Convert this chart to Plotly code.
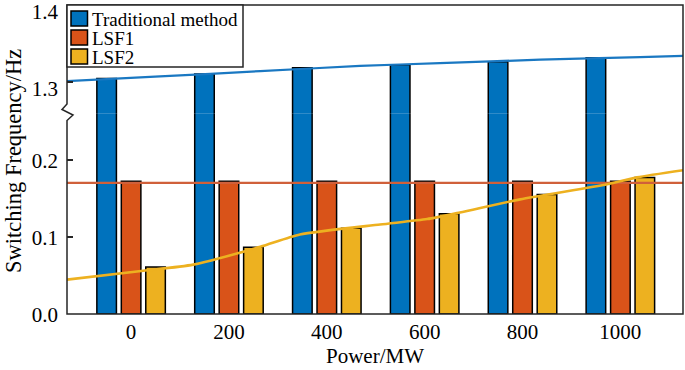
import plotly.graph_objects as go

# ---------------- data ----------------
power = [0, 200, 400, 600, 800, 1000]
tick_labels = ["0", "200", "400", "600", "800", "1000"]
traditional = [1.305, 1.311, 1.319, 1.323, 1.327, 1.332]
lsf1 = [0.172, 0.172, 0.172, 0.172, 0.172, 0.172]
lsf2 = [0.061, 0.0865, 0.111, 0.130, 0.155, 0.177]

trad_line_x = [-131, 59, 264, 468, 631, 836, 1040, 1130]
trad_line_y = [1.3017, 1.3078, 1.3147, 1.3214, 1.3251, 1.3295, 1.3329, 1.3344]
lsf1_line_x = [-131, 1130]
lsf1_line_y = [0.170, 0.170]
lsf2_line_x = [-131, 25, 127, 264, 345, 509, 605, 672, 795, 973, 1034, 1130]
lsf2_line_y = [0.0445, 0.056, 0.064, 0.087, 0.103, 0.116, 0.123, 0.1315, 0.1485, 0.168, 0.177, 0.1865]

series_names = ["Traditional method", "LSF1", "LSF2"]
colors = ["#0072BD", "#D95319", "#EDB120"]

# ---------------- layout geometry ----------------
W, H = 685, 370
ML, MR, MT, MB = 67, 2, 5, 56
PW, PH = W - ML - MR, H - MT - MB
LOW_RANGE = [0, 0.26]
UP_RANGE = [1.26, 1.4004]
split = (LOW_RANGE[1] - LOW_RANGE[0]) / ((LOW_RANGE[1] - LOW_RANGE[0]) + (UP_RANGE[1] - UP_RANGE[0]))

FONT = "Liberation Serif"
FRAME = "#262626"


def px(x):
    return (x - ML) / PW


def py(y):
    return (H - MB - y) / PH


bar_w = 40
offsets = [-70, -20, 30]
edge = dict(color="black", width=1.5)

fig = go.Figure()
# lower panel bars
for i, (name, vals) in enumerate(zip(series_names, [traditional, lsf1, lsf2])):
    fig.add_trace(go.Bar(x=power, y=vals, name=name, width=bar_w, offset=offsets[i],
                         marker=dict(color=colors[i], line=edge),
                         xaxis="x", yaxis="y", showlegend=False))
# upper panel (traditional bars continue above the break)
fig.add_trace(go.Bar(x=power, y=traditional, name=series_names[0], width=bar_w, offset=offsets[0],
                     marker=dict(color=colors[0], line=edge),
                     xaxis="x", yaxis="y2", showlegend=False))

# trend lines
fig.add_trace(go.Scatter(x=lsf1_line_x, y=lsf1_line_y, mode="lines",
                         line=dict(color="#D0603A", width=2.2), xaxis="x", yaxis="y", showlegend=False))
fig.add_trace(go.Scatter(x=lsf2_line_x, y=lsf2_line_y, mode="lines",
                         line=dict(color="#EDB120", width=2.6, shape="spline", smoothing=0.6),
                         xaxis="x", yaxis="y", showlegend=False))
fig.add_trace(go.Scatter(x=trad_line_x, y=trad_line_y, mode="lines",
                         line=dict(color="#1A78C2", width=2.2, shape="spline", smoothing=0.6),
                         xaxis="x", yaxis="y2", showlegend=False))

# frame with axis-break zigzag on the left
zig = [(ML, 104), (ML - 5, 109.5), (ML + 6, 115), (ML, 120.5)]
path = f"M {px(ML)},{py(H-MB)} L {px(zig[-1][0])},{py(zig[-1][1])} "
for (zx, zy) in reversed(zig[:-1]):
    path += f"L {px(zx)},{py(zy)} "
path += f"L {px(ML)},{py(MT)} L {px(W-MR)},{py(MT)} L {px(W-MR)},{py(H-MB)} Z"

shapes = [dict(type="path", path=path, xref="paper", yref="paper",
               line=dict(color=FRAME, width=1.5), fillcolor="rgba(0,0,0,0)", layer="above")]

# legend box (drawn manually to match the compact layout)
leg_l, leg_t, leg_r, leg_b = ML, MT, 243, 67
shapes.append(dict(type="rect", xref="paper", yref="paper",
                   x0=px(leg_l), x1=px(leg_r), y0=py(leg_b), y1=py(leg_t),
                   fillcolor="white", line=dict(color=FRAME, width=1.5), layer="above"))
annotations = []
row_y = [18.5, 37.5, 56.5]
for i, name in enumerate(series_names):
    shapes.append(dict(type="rect", xref="paper", yref="paper",
                       x0=px(71), x1=px(87.5), y0=py(row_y[i] + 7.5), y1=py(row_y[i] - 7.5),
                       fillcolor=colors[i], line=dict(color="black", width=1.5), layer="above"))
    annotations.append(dict(text=name, xref="paper", yref="paper", x=px(91), y=py(row_y[i] + 1),
                            xanchor="left", yanchor="middle", showarrow=False, borderpad=0,
                            font=dict(family=FONT, size=19, color="black")))

annotations.append(dict(text="Switching Frequency/Hz", xref="paper", yref="paper",
                        x=px(13), y=py(161), xanchor="center", yanchor="middle", textangle=-90,
                        showarrow=False, font=dict(family=FONT, size=22.5, color="black")))

tickfont = dict(family=FONT, size=21, color="black")
fig.update_layout(
    width=W, height=H,
    margin=dict(l=ML, r=MR, t=MT, b=MB, pad=0, autoexpand=False),
    paper_bgcolor="white", plot_bgcolor="white",
    showlegend=False,
    xaxis=dict(domain=[0, 1], range=[-131, 1128], tickvals=power, ticktext=tick_labels,
               showgrid=False, zeroline=False, showline=False, ticks="",
               tickfont=tickfont, anchor="y", ticklabelstandoff=3, automargin=False,
               title=dict(text="Power/MW", font=dict(family=FONT, size=21, color="black"), standoff=3)),
    yaxis=dict(domain=[0, split], range=LOW_RANGE, tickvals=[0, 0.1, 0.2],
               ticktext=["0.0", "0.1", "0.2"], ticks="inside", ticklen=6, tickcolor=FRAME,
               tickwidth=1.5, showgrid=False, zeroline=False, showline=False, automargin=False,
               tickfont=tickfont, anchor="x", ticklabelstandoff=8, ticklabelshift=1),
    yaxis2=dict(domain=[split, 1], range=UP_RANGE, tickvals=[1.3, 1.4],
                ticktext=["1.3", "1.4"], ticks="inside", ticklen=6, tickcolor=FRAME,
                tickwidth=1.5, showgrid=False, zeroline=False, showline=False, automargin=False,
                tickfont=tickfont, anchor="x", ticklabelstandoff=8, ticklabelshift=6,
                ticklabeloverflow="allow"),
    shapes=shapes,
    annotations=annotations,
)

fig.write_html("out.html", config={"displayModeBar": False},
               post_script="document.body.style.margin='0';document.body.style.overflow='hidden';")
